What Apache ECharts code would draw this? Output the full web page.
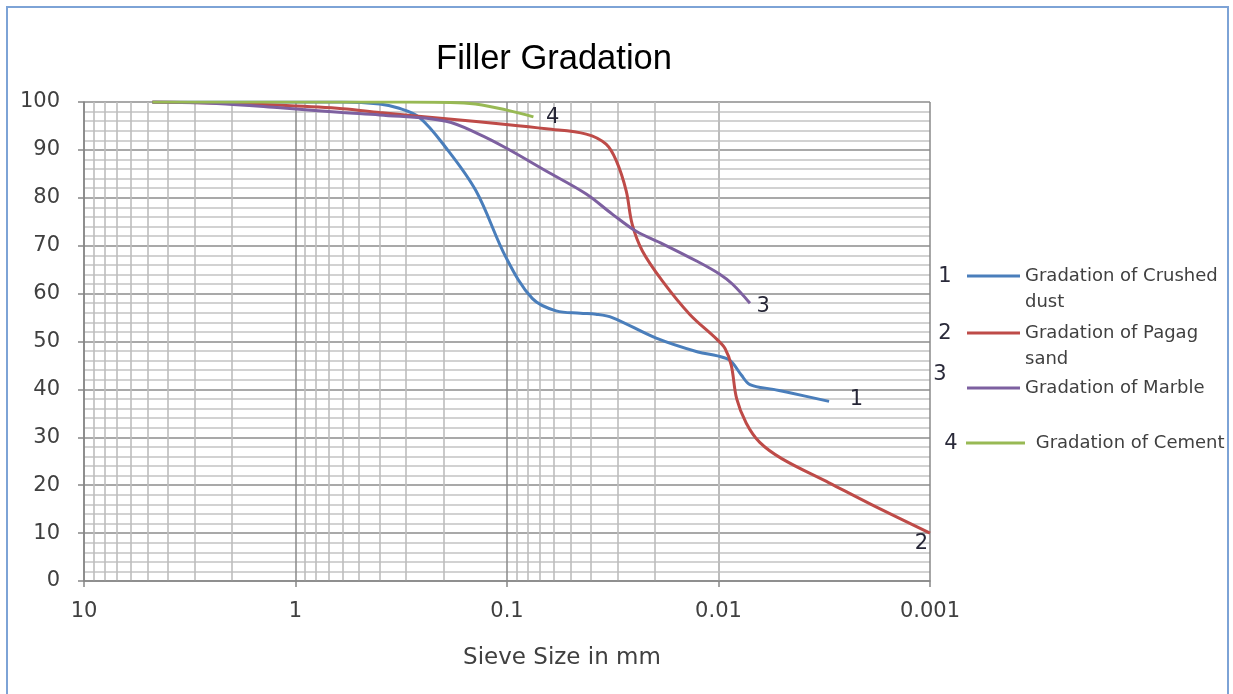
<!DOCTYPE html>
<html>
<head>
<meta charset="utf-8">
<script src="https://cdn.jsdelivr.net/npm/echarts@6/dist/echarts.min.js"></script>
<style>html,body{margin:0;padding:0;background:#fff}#c{width:1233px;height:694px}</style>
</head>
<body>
<div id="c"></div>
<script>
// ---- data ----
const titleText = 'Filler Gradation';
const xAxisName = 'Sieve Size in mm';
const seriesNames = ['Gradation of Crushed dust', 'Gradation of Pagag sand', 'Gradation of Marble', 'Gradation of Cement'];
const legendLabels = ['\nGradation of Crushed\ndust', '\nGradation of Pagag\nsand', 'Gradation of Marble', ' Gradation of Cement'];
const seriesTags = ['1', '2', '3', '4'];

const crushedSize = [4.75, 2.36, 1.18, 0.6, 0.4, 0.33, 0.26, 0.194, 0.14, 0.101, 0.076, 0.0586, 0.045, 0.038, 0.0318, 0.0197, 0.0125, 0.0101, 0.0088, 0.0078, 0.0071, 0.0055, 0.0046, 0.0030];
const crushedPass = [100, 100, 100, 100, 99.6, 98.8, 96.8, 90.4, 81.4, 67.5, 59, 56.4, 55.9, 55.7, 55, 50.7, 47.8, 47, 46, 43, 41, 40, 39.3, 37.5];

const pagagSize = [4.75, 2.36, 1.18, 0.6, 0.4, 0.194, 0.101, 0.0653, 0.0422, 0.034, 0.0304, 0.0273, 0.0256, 0.0229, 0.0184, 0.0137, 0.0102, 0.0093, 0.0087, 0.0082, 0.0074, 0.0064, 0.005, 0.003, 0.0019, 0.001];
const pagagPass = [100, 99.8, 99.3, 98.6, 97.8, 96.5, 95.3, 94.4, 93.3, 91.2, 87.7, 81.4, 74.5, 68.9, 62.6, 55.7, 50.5, 48.5, 45, 38, 33, 29, 25.5, 20.5, 16, 10];

const marbleSize = [4.75, 2.36, 1.18, 0.6, 0.4, 0.194, 0.136, 0.101, 0.0653, 0.0422, 0.0318, 0.0245, 0.0184, 0.0127, 0.0099, 0.0086, 0.0071];
const marblePass = [100, 99.7, 98.8, 97.8, 97.3, 96, 93.3, 90.4, 85.6, 80.8, 76.6, 73, 70.4, 66.8, 64.1, 62, 58];

const cementSize = [4.75, 2.36, 1.18, 0.6, 0.3, 0.15, 0.1, 0.075];
const cementPass = [100, 100, 100, 100, 100, 99.7, 98.3, 96.9];

// ---- styles ----
const colors = ['#4a7ebb', '#be4b48', '#7d60a0', '#98b954'];
const FONT = 'DejaVu Sans';

function pairs(xs, ys) { return xs.map((x, i) => [x, ys[i]]); }

// minor log grid positions (2..9 within each decade)
const minorX = [];
[0.001, 0.01, 0.1, 1].forEach(d => { for (let k = 2; k <= 9; k++) minorX.push(+(k * d).toPrecision(3)); });

const endOffsets = [[42, -2], [6, 10], [28, 3], [34, 1]];
const dataSets = [pairs(crushedSize, crushedPass), pairs(pagagSize, pagagPass), pairs(marbleSize, marblePass), pairs(cementSize, cementPass)];

const lineSeries = dataSets.map((d, i) => ({
  name: seriesNames[i],
  type: 'line',
  data: d,
  smooth: 0.35,
  showSymbol: false,
  symbol: 'none',
  z: 3,
  lineStyle: { color: colors[i], width: 3 },
  itemStyle: { color: colors[i] },
  endLabel: {
    show: true,
    formatter: seriesTags[i],
    offset: endOffsets[i],
    color: '#262636',
    fontFamily: FONT,
    fontSize: 21
  }
}));

const gridSeries = {
  name: 'grid-minor',
  type: 'line',
  data: [],
  z: 0,
  silent: true,
  markLine: {
    silent: true,
    symbol: 'none',
    z: 0,
    label: { show: false },
    lineStyle: { color: '#bdbdbd', width: 1.6, type: 'solid' },
    emphasis: { disabled: true },
    data: minorX.map(v => ({ xAxis: v }))
  }
};

const legendTops = [237, 294, 375, 430];
const legendLefts = [967, 967, 967, 966];
const legendWidths = [53, 53, 53, 59];
const legends = seriesNames.map((n, i) => ({
  data: [n],
  left: legendLefts[i],
  top: legendTops[i],
  orient: 'vertical',
  padding: 0,
  itemWidth: legendWidths[i],
  itemHeight: 3,
  itemGap: 0,
  icon: 'rect',
  selectedMode: false,
  formatter: () => legendLabels[i],
  textStyle: {
    fontFamily: FONT,
    fontSize: 18,
    color: '#404040',
    lineHeight: 26
  }
}));

const numPos = [[945, 277], [945, 334], [940, 375], [951, 444]];

const option = {
  animation: false,
  backgroundColor: '#ffffff',
  title: {
    text: titleText,
    left: 549,
    top: 37,
    textAlign: 'center',
    textStyle: { fontFamily: 'Liberation Sans', fontSize: 34.5, fontWeight: 'normal', color: '#000' }
  },
  grid: { left: 84, right: 303, top: 102, bottom: 113 },
  legend: legends,
  xAxis: {
    type: 'log',
    logBase: 10,
    min: 0.001,
    max: 10,
    inverse: true,
    name: xAxisName,
    nameLocation: 'middle',
    nameGap: 66,
    nameTextStyle: { fontFamily: FONT, fontSize: 23, color: '#404040', padding: [0, 0, 0, 110] },
    axisLine: { show: true, lineStyle: { color: '#868686', width: 1.5 } },
    axisTick: { show: true, length: 6, lineStyle: { color: '#868686', width: 1.5 } },
    axisLabel: {
      fontFamily: FONT, fontSize: 21, color: '#404040', margin: 20,
      formatter: v => String(+(+v).toPrecision(3))
    },
    splitLine: { show: true, lineStyle: { color: '#8a8a8a', width: 1.5 } },
    minorSplitLine: { show: false },
    minorTick: { show: false }
  },
  yAxis: {
    type: 'value',
    min: 0,
    max: 100,
    interval: 10,
    axisLine: { show: true, lineStyle: { color: '#868686', width: 1.5 } },
    axisTick: { show: true, length: 6, lineStyle: { color: '#868686', width: 1.5 } },
    axisLabel: { fontFamily: FONT, fontSize: 21, color: '#404040', margin: 24 },
    splitLine: { show: true, lineStyle: { color: '#8c8c8c', width: 1.6 } },
    minorTick: { show: false, splitNumber: 5 },
    minorSplitLine: { show: true, lineStyle: { color: '#c4c4c4', width: 1.5 } }
  },
  graphic: [
    { type: 'rect', shape: { x: 7, y: 7, width: 1221, height: 700 }, style: { fill: 'none', stroke: '#7da3d6', lineWidth: 2 }, z: -1, silent: true }
  ].concat(numPos.map((p, i) => ({
    type: 'text', x: p[0], y: p[1], silent: true,
    style: { text: seriesTags[i], fontFamily: FONT, fontSize: 21, fill: '#2a2a3a', align: 'center', verticalAlign: 'middle' }
  }))),
  series: [gridSeries].concat(lineSeries)
};

const chart = echarts.init(document.getElementById('c'), null, { renderer: 'canvas' });
chart.setOption(option);
</script>
</body>
</html>
